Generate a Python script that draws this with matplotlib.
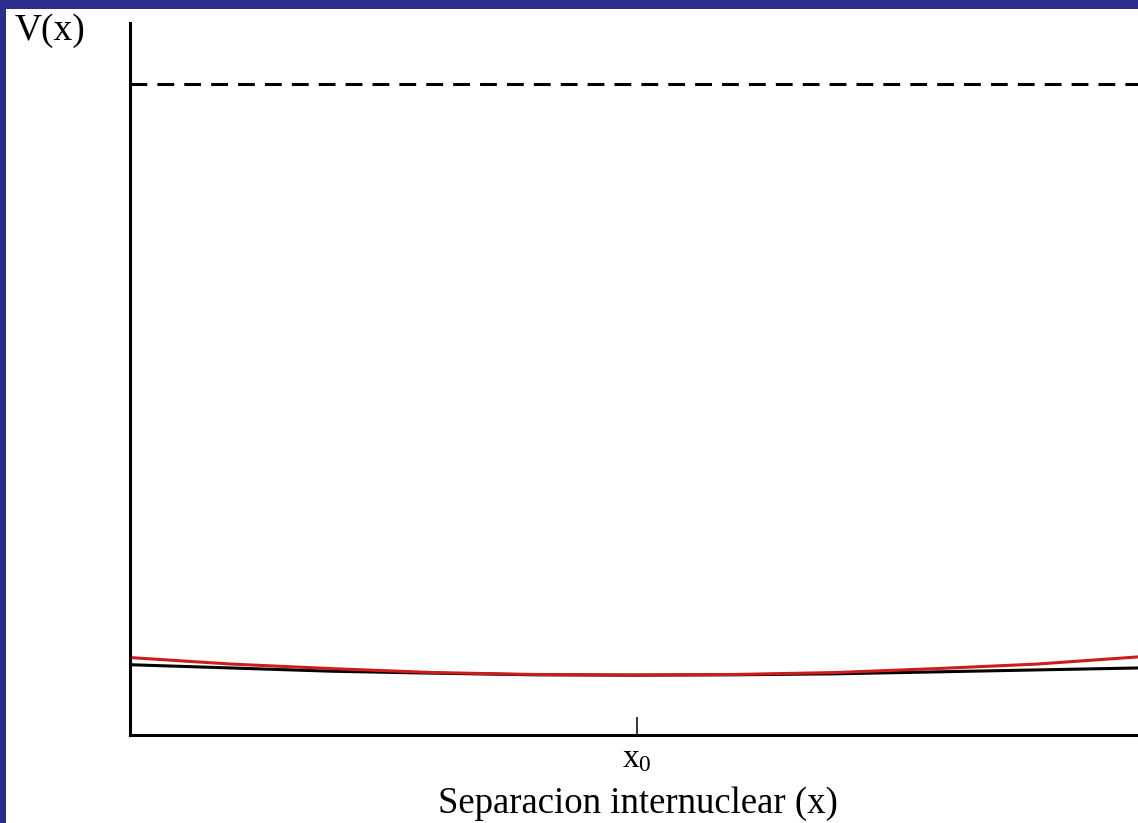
import numpy as np
import matplotlib
matplotlib.use("Agg")
from matplotlib import pyplot as plt
from matplotlib.patches import Rectangle

# datos (unidades arbitrarias)
x_vals = [0, 1, 2, 3, 4, 5, 6, 7, 8, 9, 10]
v_real = [1.08, 1.03, 0.98, 0.95, 0.925, 0.92, 0.925, 0.94, 0.97, 1.00, 1.03]
v_armonico = [1.19, 1.09, 1.02, 0.96, 0.93, 0.92, 0.93, 0.96, 1.02, 1.09, 1.20]
v_disoc = 10.0
x0 = 5.03
etiqueta_x = "Separacion internuclear (x)"
etiqueta_y = "V(x)"

plt.rcParams['font.family'] = ['Liberation Serif', 'DejaVu Serif']
plt.rcParams['mathtext.fontset'] = 'custom'
plt.rcParams['mathtext.rm'] = 'Liberation Serif'
plt.rcParams['mathtext.it'] = 'Liberation Serif'

W, H = 1138, 823
fig = plt.figure(figsize=(W / 100, H / 100), dpi=100)
fig.patch.set_facecolor('#2b2e8c')
fig.patches.append(Rectangle((6 / W, 0), 1, 1 - 9 / H, transform=fig.transFigure,
                             facecolor='white', edgecolor='none', zorder=-5))

ax = fig.add_axes([130 / W, (H - 735) / H, 1 - 130 / W, (735 - 23) / H])
ax.set_zorder(2)
ax.set_facecolor('none')
ax.set_xlim(0, 10)
ax.set_ylim(0, 10.94)

ax.plot(x_vals, v_real, color='black', lw=2.2, solid_capstyle='butt')
ax.plot(x_vals, v_armonico, color='#cc1c1c', lw=2.2, solid_capstyle='butt')
ax.axhline(v_disoc, color='black', lw=2.2, dashes=(5.5, 3.3))

for s in ['top', 'right']:
    ax.spines[s].set_visible(False)
for s in ['left', 'bottom']:
    ax.spines[s].set_linewidth(2.2)

ax.set_yticks([])
ax.set_xticks([x0])
ax.set_xticklabels([r'$\mathrm{x}_{0}$'], fontsize=24)
ax.tick_params(axis='x', direction='in', length=13, width=1.1, pad=6)

fig.text(638 / W, 1 - 813 / H, etiqueta_x, ha='center', va='baseline', fontsize=26.5)
fig.text(15 / W, 1 - 31 / H, etiqueta_y, ha='left', va='center', fontsize=27)

fig.savefig('out.png', dpi=100)
